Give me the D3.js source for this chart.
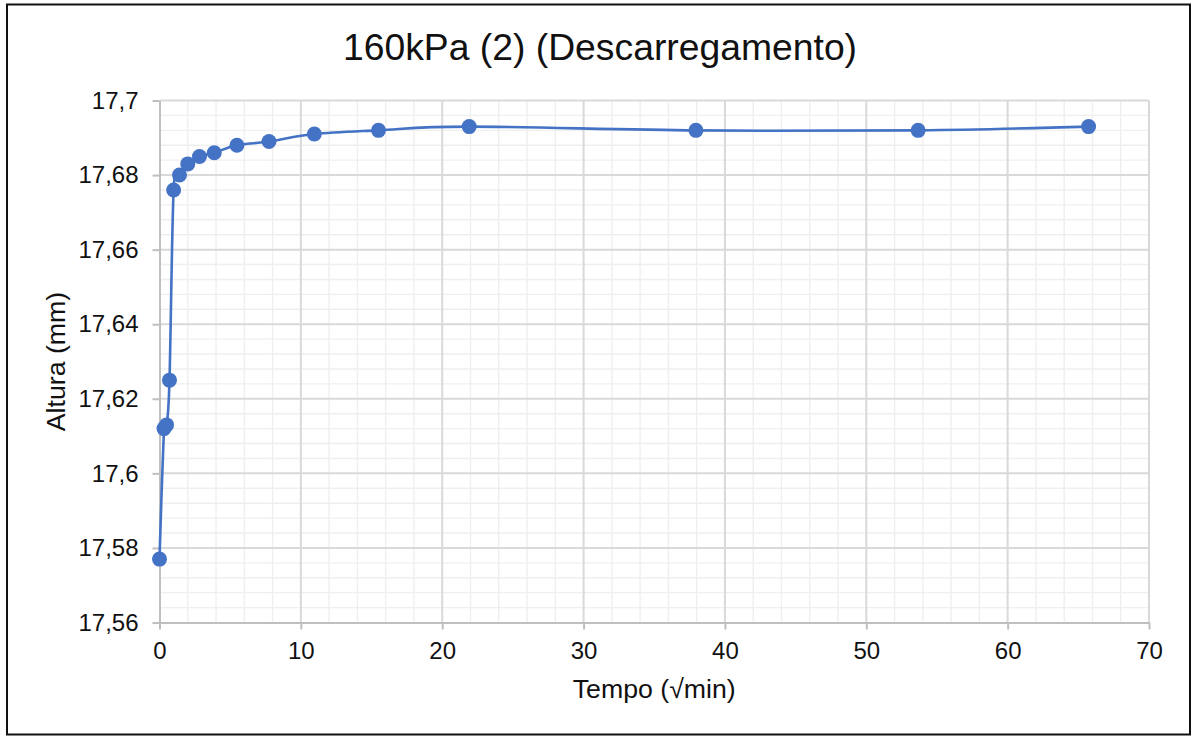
<!DOCTYPE html>
<html>
<head>
<meta charset="utf-8">
<script src="https://cdn.jsdelivr.net/npm/d3@7"></script>
<style>
  html, body { margin: 0; padding: 0; background: #fff; }
  svg { display: block; font-family: Arial, "Liberation Sans", sans-serif; }
</style>
</head>
<body>
<svg id="chart" width="1192" height="736"></svg>
<script>
// Time readings (square root of minutes) and specimen height (mm)
const tempo = [0, 0.316, 0.5, 0.707, 1, 1.414, 2, 2.828, 3.873, 5.477, 7.746, 10.954, 15.492, 21.909, 37.947, 53.666, 65.727];
const altura = [17.577, 17.612, 17.613, 17.625, 17.676, 17.680, 17.683, 17.685, 17.686, 17.688, 17.689, 17.691, 17.692, 17.693, 17.692, 17.692, 17.693];

const xTicks = [0, 10, 20, 30, 40, 50, 60, 70];
const yTicks = [17.56, 17.58, 17.6, 17.62, 17.64, 17.66, 17.68, 17.7];

const titulo = "160kPa (2) (Descarregamento)";
const tituloX = "Tempo (\u221Amin)";
const tituloY = "Altura (mm)";

const svg = d3.select("#chart");
const plot = { left: 159.5, right: 1149, top: 100.5, bottom: 622.5 };

// Chart frame
svg.append("rect")
  .attr("x", 7).attr("y", 4.5)
  .attr("width", 1183).attr("height", 730)
  .attr("fill", "#fff")
  .attr("stroke", "#111").attr("stroke-width", 2);

const x = d3.scaleLinear().domain([0, 70]).range([plot.left, plot.right]);
const y = d3.scaleLinear().domain([17.56, 17.7]).range([plot.bottom, plot.top]);

const fmt = v => String(+v.toFixed(4)).replace(".", ",");

// Minor gridlines
const xMinor = d3.range(0, 70.001, 2).filter(v => v % 10 !== 0);
const yMinor = d3.range(0, 36).map(i => 17.56 + i * 0.004).filter((v, i) => i % 5 !== 0);

const grid = svg.append("g");
grid.selectAll(".xm").data(xMinor).join("line")
  .attr("x1", d => x(d)).attr("x2", d => x(d))
  .attr("y1", plot.top).attr("y2", plot.bottom)
  .attr("stroke", "#efefef").attr("stroke-width", 1.4);
grid.selectAll(".ym").data(yMinor).join("line")
  .attr("x1", plot.left).attr("x2", plot.right)
  .attr("y1", d => y(d)).attr("y2", d => y(d))
  .attr("stroke", "#efefef").attr("stroke-width", 1.4);

// Major gridlines
grid.selectAll(".xM").data(xTicks.slice(1)).join("line")
  .attr("x1", d => x(d)).attr("x2", d => x(d))
  .attr("y1", plot.top).attr("y2", plot.bottom)
  .attr("stroke", "#d9d9d9").attr("stroke-width", 2);
grid.selectAll(".yM").data(yTicks.slice(1)).join("line")
  .attr("x1", plot.left).attr("x2", plot.right)
  .attr("y1", d => y(d)).attr("y2", d => y(d))
  .attr("stroke", "#d9d9d9").attr("stroke-width", 2);

// Axes
const xAxis = d3.axisBottom(x).tickValues(xTicks).tickFormat(fmt).tickSizeOuter(0).tickSizeInner(7).tickPadding(12.5);
const yAxis = d3.axisLeft(y).tickValues(yTicks).tickFormat(fmt).tickSizeOuter(0).tickSizeInner(7).tickPadding(14);

const gx = svg.append("g").attr("transform", `translate(0,${plot.bottom})`).call(xAxis);
const gy = svg.append("g").attr("transform", `translate(${plot.left},0)`).call(yAxis);

[gx, gy].forEach(g => {
  g.select(".domain").attr("stroke", "#bfbfbf").attr("stroke-width", 2);
  g.selectAll(".tick line").attr("stroke", "#bfbfbf").attr("stroke-width", 2);
  g.selectAll(".tick text").attr("fill", "#111").style("font-size", "24px")
    .style("font-family", "Arial, 'Liberation Sans', sans-serif");
});
gx.selectAll(".tick text").attr("dy", "0.71em");

// Series line (smoothed) and markers
const pts = tempo.map((t, i) => [t, altura[i]]);
const line = d3.line()
  .x(d => x(d[0])).y(d => y(d[1]))
  .curve(d3.curveCardinal.tension(0));

svg.append("path")
  .datum(pts)
  .attr("d", line)
  .attr("fill", "none")
  .attr("stroke", "#4472C4")
  .attr("stroke-width", 2.6)
  .attr("stroke-linejoin", "round");

svg.append("g").selectAll("circle").data(pts).join("circle")
  .attr("cx", d => x(d[0])).attr("cy", d => y(d[1]))
  .attr("r", 7.5)
  .attr("fill", "#4472C4");

// Titles
svg.append("text")
  .attr("x", 600).attr("y", 59.5)
  .attr("text-anchor", "middle")
  .attr("fill", "#111")
  .style("font-size", "37.3px")
  .text(titulo);

svg.append("text")
  .attr("x", (plot.left + plot.right) / 2).attr("y", 698)
  .attr("text-anchor", "middle")
  .attr("fill", "#111")
  .style("font-size", "26.7px")
  .text(tituloX);

svg.append("text")
  .attr("transform", `translate(65,${(plot.top + plot.bottom) / 2}) rotate(-90)`)
  .attr("text-anchor", "middle")
  .attr("fill", "#111")
  .style("font-size", "26.7px")
  .text(tituloY);
</script>
</body>
</html>
